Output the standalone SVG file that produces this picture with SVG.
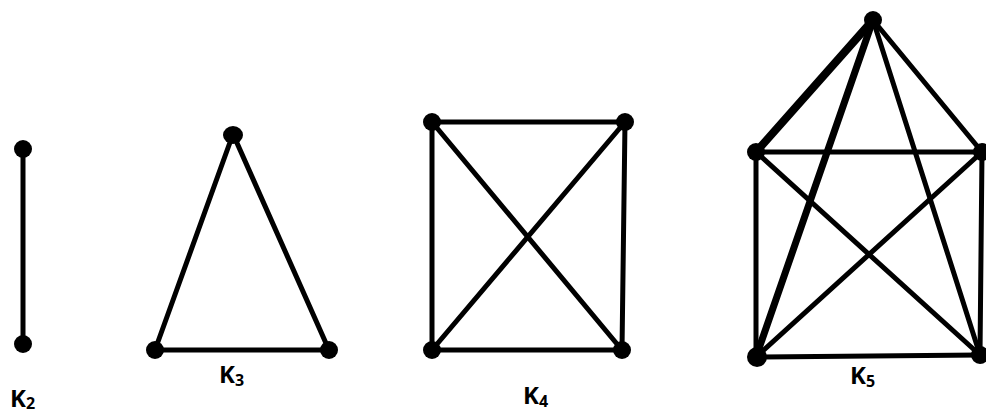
<svg xmlns="http://www.w3.org/2000/svg" width="986" height="416" viewBox="0 0 986 416">
<style>
.e{stroke:#000;stroke-width:5;stroke-linecap:round;fill:none}
.n{fill:#000}
.t{font-family:"Open Sans","Liberation Sans",sans-serif;font-weight:bold;font-size:24px;fill:#000}
.s{font-size:16px}
</style>
<rect width="986" height="416" fill="#fff"/>
<g id="connectors">
<line class="e" x1="23" y1="149" x2="23" y2="344"/>
<line class="e" x1="233" y1="134" x2="155" y2="350"/>
<line class="e" x1="233" y1="134" x2="329" y2="350"/>
<line class="e" x1="155" y1="350" x2="329" y2="350"/>
<line class="e" x1="432" y1="122" x2="625" y2="122"/>
<line class="e" x1="432" y1="122" x2="432" y2="350"/>
<line class="e" x1="625" y1="122" x2="622" y2="350"/>
<line class="e" x1="432" y1="350" x2="622" y2="350"/>
<line class="e" x1="432" y1="122" x2="622" y2="350"/>
<line class="e" x1="625" y1="122" x2="432" y2="350"/>
<line class="e" style="stroke-width:8" x1="873" y1="20" x2="756" y2="152"/>
<line class="e" x1="873" y1="20" x2="982" y2="152"/>
<line class="e" style="stroke-width:7" x1="873" y1="20" x2="756" y2="357"/>
<line class="e" x1="873" y1="20" x2="980" y2="355"/>
<line class="e" x1="756" y1="152" x2="982" y2="152"/>
<line class="e" x1="756" y1="152" x2="756" y2="357"/>
<line class="e" x1="982" y1="152" x2="980" y2="355"/>
<line class="e" x1="756" y1="357" x2="980" y2="355"/>
<line class="e" x1="756" y1="152" x2="980" y2="355"/>
<line class="e" x1="982" y1="152" x2="756" y2="357"/>
</g>
<g id="k2-a"><circle class="n" cx="23" cy="149" r="9"/></g>
<g id="k2-b"><circle class="n" cx="23" cy="344" r="9"/></g>
<g id="k3-a"><ellipse class="n" cx="233" cy="135" rx="10" ry="9"/></g>
<g id="k3-b"><circle class="n" cx="155" cy="350" r="9"/></g>
<g id="k3-c"><circle class="n" cx="329" cy="350" r="9"/></g>
<g id="k4-a"><circle class="n" cx="432" cy="122" r="9"/></g>
<g id="k4-b"><circle class="n" cx="625" cy="122" r="9"/></g>
<g id="k4-c"><circle class="n" cx="432" cy="350" r="9"/></g>
<g id="k4-d"><circle class="n" cx="622" cy="350" r="9"/></g>
<g id="k5-a"><circle class="n" cx="873" cy="20" r="9"/></g>
<g id="k5-b"><circle class="n" cx="756" cy="152" r="9"/></g>
<g id="k5-c"><circle class="n" cx="982" cy="152" r="9"/></g>
<g id="k5-d"><circle class="n" cx="757" cy="357" r="10"/></g>
<g id="k5-e"><circle class="n" cx="980" cy="355" r="9"/></g>
<g id="labels">
<text class="t" x="10" y="407">K<tspan class="s" dy="2">2</tspan></text>
<text class="t" x="219" y="383">K<tspan class="s" dy="3">3</tspan></text>
<text class="t" x="523" y="404">K<tspan class="s" dy="3">4</tspan></text>
<text class="t" x="850" y="384">K<tspan class="s" dy="3">5</tspan></text>
</g>
</svg>
